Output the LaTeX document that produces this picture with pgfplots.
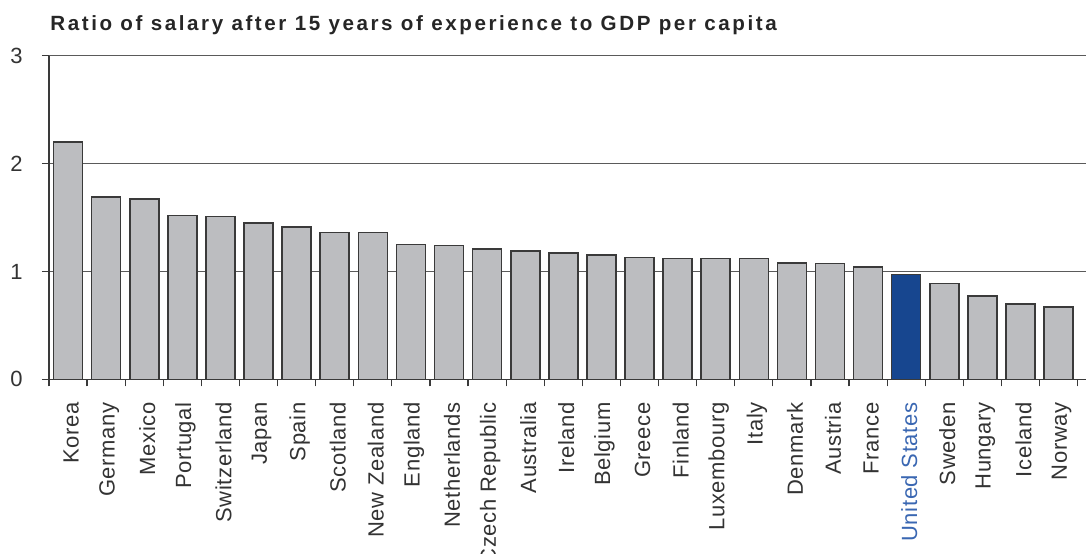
\documentclass[border=0pt]{standalone}
\usepackage{fontspec}
\setmainfont{Liberation Sans}
\usepackage{pgfplots}
\pgfplotsset{compat=1.18}
\definecolor{bargray}{HTML}{BCBDC0}
\definecolor{baredge}{HTML}{3A3A3A}
\definecolor{usblue}{HTML}{17468F}
\definecolor{uslabel}{HTML}{3A67B2}
\definecolor{gridc}{HTML}{5A5A5A}
\begin{document}
\begin{tikzpicture}
\begin{axis}[
  at={(0,0)}, anchor=south west,
  scale only axis,
  width=518.5pt, height=161.8pt,
  xmin=-0.5, xmax=26.72,
  ymin=0, ymax=3,
  axis x line*=bottom, axis y line*=left,
  axis line style={draw=baredge, line width=0.7pt, -},
  ytick={0,1,2,3},
  ymajorgrids, grid style={draw=gridc, line width=0.6pt},
  tick align=outside,
  major tick length=3.5pt,
  tick style={draw=baredge, line width=0.6pt},
  xtick={0.08,1.08,...,26.1},
  xticklabels={Korea,Germany,Mexico,Portugal,Switzerland,Japan,Spain,Scotland,New Zealand,England,Netherlands,Czech Republic,Australia,Ireland,Belgium,Greece,Finland,Luxembourg,Italy,Denmark,Austria,France,\textcolor{uslabel}{United States},Sweden,Hungary,Iceland,Norway},
  x tick style={draw=none},
  minor xtick={-0.5,0.5,...,26.6},
  minor tick length=3.5pt,
  minor x tick style={draw=baredge, line width=0.6pt},
  xticklabel style={rotate=90, anchor=east, inner sep=0pt, font=\fontsize{11}{13}\selectfont\addfontfeatures{LetterSpace=3}, text=black!80},
  xticklabel shift=7.85pt,
  yticklabel style={anchor=east, inner sep=0pt, font=\fontsize{11}{13}\selectfont, text=black!80},
  yticklabel shift=9.5pt,
  /pgf/number format/assume math mode=true,
  clip=false,
]
\addplot[ybar, bar width=14.5pt, bar shift=0pt, fill=bargray, draw=baredge, line width=0.8pt] coordinates {
(0,2.20) (1,1.69) (2,1.67) (3,1.52) (4,1.51) (5,1.45) (6,1.41) (7,1.36) (8,1.36)
(9,1.25) (10,1.24) (11,1.21) (12,1.19) (13,1.17) (14,1.15) (15,1.13) (16,1.12)
(17,1.12) (18,1.12) (19,1.08) (20,1.075) (21,1.04) (23,0.89) (24,0.77) (25,0.70) (26,0.67)
};
\addplot[ybar, bar width=14.5pt, bar shift=0pt, fill=usblue, draw=baredge, line width=0.8pt] coordinates {
(22,0.97)
};
\end{axis}
\node[anchor=base west, inner sep=0pt, font=\bfseries\fontsize{10.3}{12}\selectfont\addfontfeatures{LetterSpace=12.5}, text=black!85] at (0.5pt,174.3pt) {Ratio of salary after 15 years of experience to GDP per capita};
\pgfresetboundingbox
\useasboundingbox (-24.5pt,-86.85pt) rectangle (518.5pt,189.65pt);
\end{tikzpicture}
\end{document}
